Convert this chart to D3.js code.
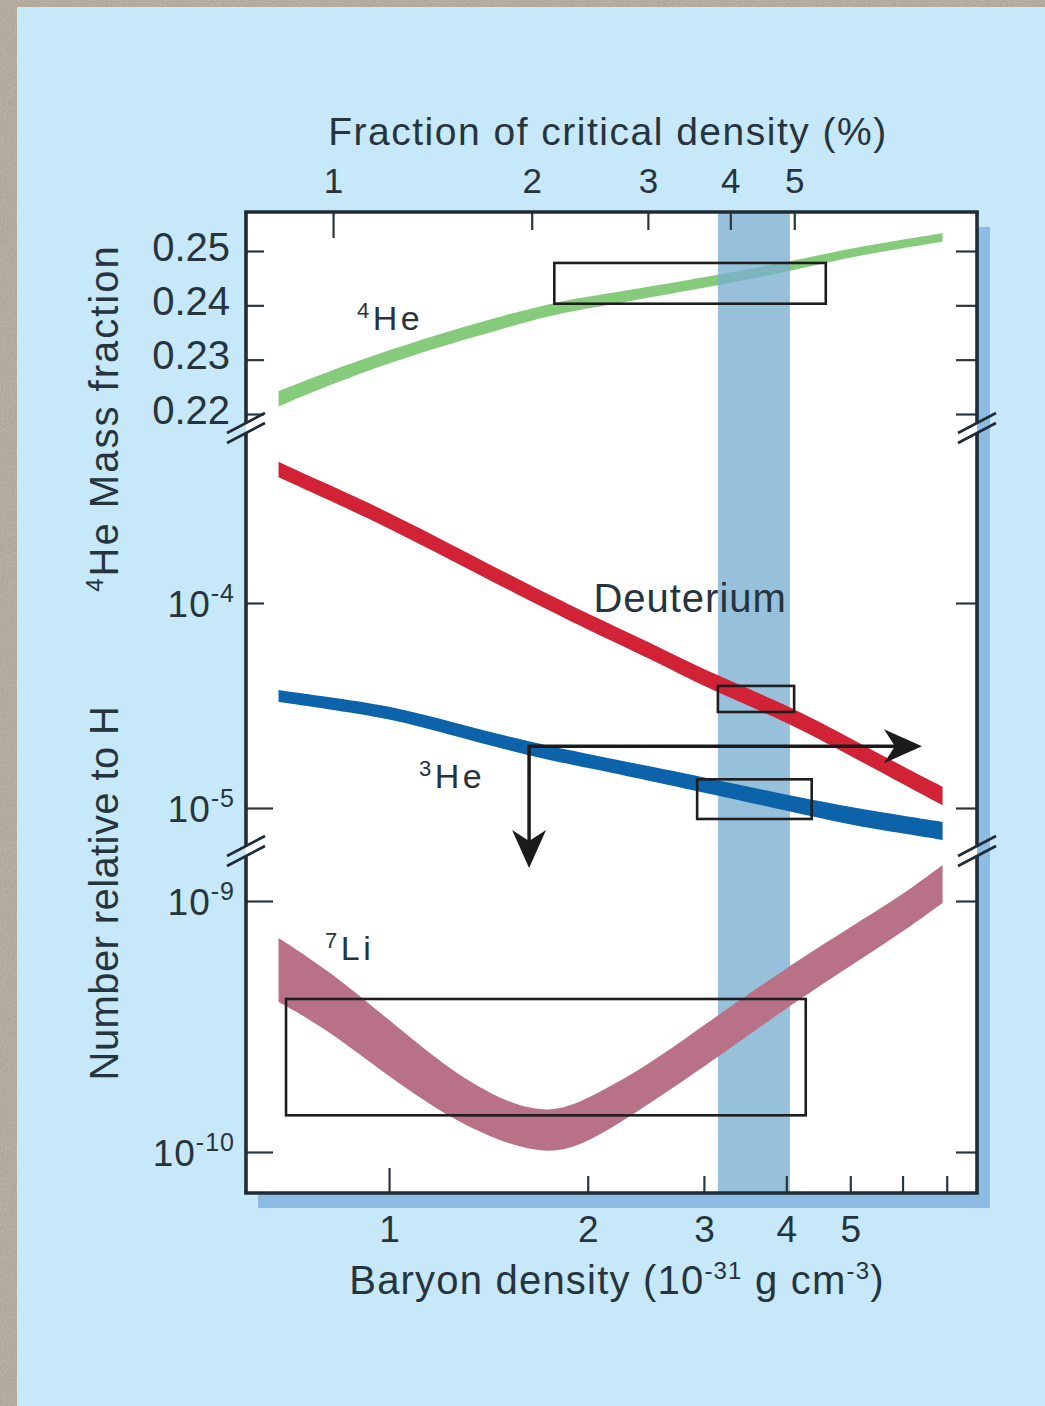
<!DOCTYPE html>
<html>
<head>
<meta charset="utf-8">
<script src="https://cdn.jsdelivr.net/npm/d3@7"></script>
<style>
  html, body { margin: 0; padding: 0; background: #b3a898; }
  svg { display: block; }
  text { font-family: "Liberation Sans", Arial, Helvetica, sans-serif; fill: #26343e; }
</style>
</head>
<body>
<svg id="chart" width="1045" height="1406"></svg>
<script>
// Baryon density grid, in units of 1e-31 g cm^-3
const density = [0.68, 0.8, 1, 1.25, 1.5, 1.75, 2, 2.5, 3, 4, 5, 6, 6.9];

// 4He mass fraction band (upper / lower edge)
const he4Hi = [0.2242, 0.2276, 0.2318, 0.2355, 0.2382, 0.2403, 0.2416, 0.2435, 0.2452, 0.2479, 0.2505, 0.2521, 0.2533];
const he4Lo = [0.2214, 0.2250, 0.2294, 0.2331, 0.2358, 0.2381, 0.2394, 0.2415, 0.2432, 0.2461, 0.2489, 0.2505, 0.2517];

// Deuterium abundance relative to H
const deutHi = [4.88e-4, 3.85e-4, 2.77e-4, 1.91e-4, 1.41e-4, 1.096e-4, 8.87e-5, 6.37e-5, 4.71e-5, 3.20e-5, 2.19e-5, 1.60e-5, 1.27e-5];
const deutLo = [4.11e-4, 3.24e-4, 2.32e-4, 1.60e-4, 1.18e-4, 9.18e-5, 7.41e-5, 5.30e-5, 3.90e-5, 2.64e-5, 1.80e-5, 1.31e-5, 1.03e-5];

// 3He abundance relative to H
const he3Hi = [3.76e-5, 3.50e-5, 3.16e-5, 2.62e-5, 2.25e-5, 2.00e-5, 1.84e-5, 1.59e-5, 1.41e-5, 1.16e-5, 1.01e-5, 9.20e-6, 8.55e-6];
const he3Lo = [3.29e-5, 3.05e-5, 2.74e-5, 2.26e-5, 1.93e-5, 1.71e-5, 1.57e-5, 1.35e-5, 1.19e-5, 9.70e-6, 8.26e-6, 7.52e-6, 6.98e-6];

// 7Li abundance relative to H
const li7Hi = [7.13e-10, 5.41e-10, 3.36e-10, 2.07e-10, 1.58e-10, 1.42e-10, 1.62e-10, 2.26e-10, 3.21e-10, 5.41e-10, 7.87e-10, 1.057e-9, 1.39e-9];
const li7Lo = [3.96e-10, 3.12e-10, 1.99e-10, 1.34e-10, 1.08e-10, 0.98e-10, 1.08e-10, 1.58e-10, 2.18e-10, 3.75e-10, 5.51e-10, 7.52e-10, 9.82e-10];

// Observational boxes: density range and abundance range
const boxPanels  = ["he4", "mid", "mid", "low"];
const boxDensity = [[1.78, 4.59], [3.15, 4.11], [2.93, 4.37], [0.698, 4.28]];
const boxValue   = [[0.2403, 0.2478], [2.94e-5, 3.94e-5], [8.84e-6, 1.38e-5], [1.40e-10, 4.07e-10]];

// Concordance band in baryon density
const concordance = [3.15, 4.05];

// Arrow from the 3He limit: origin, rightward end, downward end
const arrowOrigin = [1.63, 2.0e-5];
const arrowRightTo = 6.42;
const arrowDownTo = 5.1e-6;

// Axis ticks and labels
const bottomTicks = [1, 2, 3, 4, 5, 6, 7];
const bottomLabels = [1, 2, 3, 4, 5];
const topTicks = [1, 2, 3, 4, 5];
const he4Ticks = [0.22, 0.23, 0.24, 0.25];
const midTicks = [1e-4, 1e-5];
const lowTicks = [1e-9, 1e-10];

// Curve labels: superscript, text, density, value, panel
const curveLabels = [
  { sup: "4", text: "He", x: 0.894, v: 0.2355, panel: "he4" },
  { sup: "",  text: "Deuterium", x: 2.04, v: 9.04e-5, panel: "mid" },
  { sup: "3", text: "He", x: 1.11, v: 1.25e-5, panel: "mid" },
  { sup: "7", text: "Li", x: 0.80, v: 5.82e-10, panel: "low" }
];

const W = 1045, H = 1406;
const L = 246, R = 977, T = 212, B = 1193;
const svg = d3.select("#chart");

// Scales
const x = d3.scaleLog().domain([0.607, 7.78]).range([L, R]);
const pct = d3.scaleLog().domain([0.738, 9.46]).range([L, R]);
const yHe = d3.scaleLinear().domain([0.22, 0.25]).range([414, 251]);
const yMid = d3.scaleLog().domain([1e-4, 1e-5]).range([603, 808]);
const yLow = d3.scaleLog().domain([1e-9, 1e-10]).range([901, 1152]);
const yOf = { he4: yHe, mid: yMid, low: yLow };

// Stone-textured surround
const defs = svg.append("defs");
const grain = defs.append("filter").attr("id", "grain").attr("x", 0).attr("y", 0).attr("width", 1).attr("height", 1);
grain.append("feTurbulence").attr("type", "fractalNoise").attr("baseFrequency", 0.55).attr("numOctaves", 3).attr("seed", 7);
grain.append("feColorMatrix").attr("type", "saturate").attr("values", 0);
svg.append("rect").attr("width", W).attr("height", H).attr("fill", "#b3a898");
svg.append("rect").attr("width", W).attr("height", H).attr("filter", "url(#grain)").attr("opacity", 0.35);

// Light blue backdrop
svg.append("rect").attr("x", 17).attr("y", 7).attr("width", W - 17).attr("height", H - 7).attr("fill", "#c6e8f8");

// Plot shadow and plot area
svg.append("rect").attr("x", L + 12).attr("y", T + 15).attr("width", R - L + 1).attr("height", B - T)
  .attr("fill", "#8cbbe3");
svg.append("rect").attr("x", L).attr("y", T).attr("width", R - L).attr("height", B - T).attr("fill", "#ffffff");

function band(hi, lo, yScale) {
  const rows = density.map((d, i) => ({ d, hi: hi[i], lo: lo[i] }));
  return d3.area()
    .x(r => x(r.d))
    .y0(r => yScale(r.lo))
    .y1(r => yScale(r.hi))
    .curve(d3.curveBasis)(rows);
}

// 4He band sits beneath the concordance band
svg.append("path").attr("d", band(he4Hi, he4Lo, yHe)).attr("fill", "#86cb7c");

svg.append("rect")
  .attr("x", x(concordance[0])).attr("y", T)
  .attr("width", x(concordance[1]) - x(concordance[0])).attr("height", B - T)
  .attr("fill", "#7aaecf").attr("opacity", 0.78);

svg.append("path").attr("d", band(deutHi, deutLo, yMid)).attr("fill", "#d12236");
svg.append("path").attr("d", band(he3Hi, he3Lo, yMid)).attr("fill", "#0d63a9");
svg.append("path").attr("d", band(li7Hi, li7Lo, yLow)).attr("fill", "#b97187");

// Observational boxes
boxPanels.forEach((p, i) => {
  const ys = yOf[p];
  const x0 = x(boxDensity[i][0]), x1 = x(boxDensity[i][1]);
  const y0 = ys(boxValue[i][1]), y1 = ys(boxValue[i][0]);
  svg.append("rect").attr("x", x0).attr("y", y0).attr("width", x1 - x0).attr("height", y1 - y0)
    .attr("fill", "none").attr("stroke", "#1e1e1e").attr("stroke-width", 2.6);
});

// Arrows
const ax0 = x(arrowOrigin[0]), ay0 = yMid(arrowOrigin[1]);
const axR = x(arrowRightTo), ayD = yMid(arrowDownTo);
const arrowG = svg.append("g").attr("stroke", "#1b1b1b").attr("fill", "#1b1b1b");
arrowG.append("line").attr("x1", ax0).attr("y1", ay0).attr("x2", axR - 24).attr("y2", ay0).attr("stroke-width", 3.5);
arrowG.append("line").attr("x1", ax0).attr("y1", ay0 - 1.5).attr("x2", ax0).attr("y2", ayD - 24).attr("stroke-width", 3.5);
const head = "M0,0 L-38,-17 L-27,0 L-38,17 Z";
arrowG.append("path").attr("d", head).attr("stroke", "none").attr("transform", `translate(${axR},${ay0})`);
arrowG.append("path").attr("d", head).attr("stroke", "none").attr("transform", `translate(${ax0},${ayD}) rotate(90)`);

// Axes: ticks pointing into the plot
const tickStroke = "#2a3640";
function styleAxis(g) {
  g.select(".domain").remove();
  g.selectAll("line").attr("stroke", tickStroke).attr("stroke-width", 2.2);
}

const bottomAxis = svg.append("g").attr("transform", `translate(0,${B})`)
  .call(d3.axisBottom(x).tickValues(bottomTicks).tickSize(-17).tickFormat(""))
  .call(styleAxis);
bottomAxis.selectAll(".tick").filter(d => d === 1).select("line").attr("y2", -25);

const bottomLab = svg.append("g").attr("transform", `translate(0,${B})`)
  .call(d3.axisBottom(x).tickValues(bottomLabels).tickSize(0).tickFormat(d3.format("d")));
bottomLab.select(".domain").remove();
bottomLab.selectAll("text").attr("y", 49).attr("dy", null)
  .style("font-size", "37px").style("fill", "#26343e");

const topAxis = svg.append("g").attr("transform", `translate(0,${T})`)
  .call(d3.axisTop(pct).tickValues(topTicks).tickSize(-18).tickFormat(""))
  .call(styleAxis);
topAxis.selectAll(".tick").filter(d => d === 1).select("line").attr("y2", 26);

const topLab = svg.append("g").attr("transform", `translate(0,${T})`)
  .call(d3.axisTop(pct).tickValues(topTicks).tickSize(0).tickFormat(d3.format("d")));
topLab.select(".domain").remove();
topLab.selectAll("text").attr("y", -19).attr("dy", null)
  .style("font-size", "35px").style("fill", "#26343e");

// Left / right ticks for each panel; the lower decade ticks on the left run a little longer
const longLeft = new Set([1e-5, 1e-9, 1e-10]);
[[yHe, he4Ticks], [yMid, midTicks], [yLow, lowTicks]].forEach(([s, tv]) => {
  const lg = svg.append("g").attr("transform", `translate(${L},0)`)
    .call(d3.axisLeft(s).tickValues(tv).tickSize(-18).tickFormat(""))
    .call(styleAxis);
  lg.selectAll(".tick").filter(d => longLeft.has(d)).select("line").attr("x2", 27);
  svg.append("g").attr("transform", `translate(${R},0)`)
    .call(d3.axisRight(s).tickValues(tv).tickSize(-21).tickFormat(""))
    .call(styleAxis);
});

// Left tick labels
const he4Lab = svg.append("g").attr("transform", `translate(${L},0)`)
  .call(d3.axisLeft(yHe).tickValues(he4Ticks).tickSize(0).tickFormat(d3.format(".2f")));
he4Lab.select(".domain").remove();
he4Lab.selectAll("text").attr("x", -16).attr("dy", 9).style("font-size", "40px").style("fill", "#26343e");

function powerLabels(scale, values) {
  const g = svg.append("g").attr("transform", `translate(${L},0)`)
    .call(d3.axisLeft(scale).tickValues(values).tickSize(0).tickFormat(""));
  g.select(".domain").remove();
  g.selectAll(".tick").each(function (d) {
    const t = d3.select(this).append("text").attr("x", -11).attr("y", 13)
      .attr("text-anchor", "end").style("font-size", "37px").style("letter-spacing", "1px");
    t.append("tspan").text("10");
    t.append("tspan").attr("dy", -15).style("font-size", "25px").text("-" + Math.round(-Math.log10(d)));
  });
}
powerLabels(yMid, midTicks);
powerLabels(yLow, lowTicks);

// Frame with axis breaks
const breaks = [428, 851];
const gap = 5;
const frame = svg.append("g").attr("stroke", "#1f2b35").attr("stroke-width", 3.6).attr("fill", "none");
frame.append("line").attr("x1", L - 1.8).attr("x2", R + 1.8).attr("y1", T).attr("y2", T);
frame.append("line").attr("x1", L - 1.8).attr("x2", R + 1.8).attr("y1", B).attr("y2", B);
[L, R].forEach(xx => {
  const stops = [T, breaks[0] - gap, breaks[0] + gap, breaks[1] - gap, breaks[1] + gap, B];
  for (let i = 0; i < stops.length; i += 2) {
    frame.append("line").attr("x1", xx).attr("x2", xx).attr("y1", stops[i]).attr("y2", stops[i + 1]);
  }
  breaks.forEach(by => {
    [-gap, gap].forEach(o => {
      svg.append("line").attr("x1", xx - 19).attr("y1", by + o + 10).attr("x2", xx + 19).attr("y2", by + o - 10)
        .attr("stroke", "#1f2b35").attr("stroke-width", 2.6);
    });
  });
});

// Curve labels
curveLabels.forEach(c => {
  const t = svg.append("text").attr("x", x(c.x)).attr("y", yOf[c.panel](c.v))
    .style("font-size", c.sup ? "34px" : "40px").style("letter-spacing", c.sup ? "3.5px" : "1px");
  if (c.sup) {
    t.append("tspan").attr("dy", -12).style("font-size", "22px").text(c.sup);
    t.append("tspan").attr("dy", 12).text(c.text);
  } else {
    t.text(c.text);
  }
});

// Axis titles
svg.append("text").attr("x", 608).attr("y", 145).attr("text-anchor", "middle")
  .style("font-size", "39px").style("letter-spacing", "1.5px").text("Fraction of critical density (%)");

const xt = svg.append("text").attr("x", 617).attr("y", 1294).attr("text-anchor", "middle")
  .style("font-size", "40px").style("letter-spacing", "1.2px");
xt.append("tspan").text("Baryon density (10");
xt.append("tspan").attr("dy", -15).style("font-size", "24px").text("-31");
xt.append("tspan").attr("dy", 15).text(" g cm");
xt.append("tspan").attr("dy", -15).style("font-size", "24px").text("-3");
xt.append("tspan").attr("dy", 15).text(")");

const yt1 = svg.append("text").attr("transform", "translate(118,418) rotate(-90)").attr("text-anchor", "middle")
  .style("font-size", "40px").style("letter-spacing", "2px");
yt1.append("tspan").attr("dy", -15).style("font-size", "24px").text("4");
yt1.append("tspan").attr("dy", 15).text("He Mass fraction");

svg.append("text").attr("transform", "translate(118,893) rotate(-90)").attr("text-anchor", "middle")
  .style("font-size", "40px").style("letter-spacing", "0.4px").text("Number relative to H");
</script>
</body>
</html>
